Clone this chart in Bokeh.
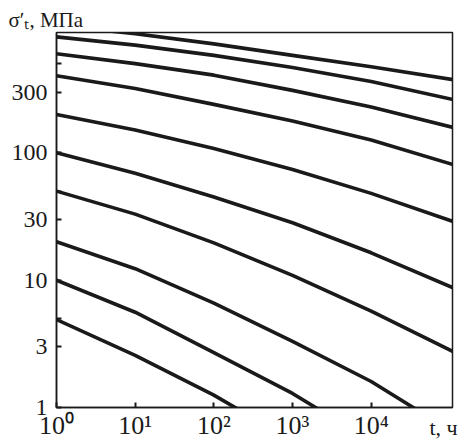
from bokeh.plotting import figure
from bokeh.models import FixedTicker, Range1d, LogAxis
from bokeh.embed import file_html
from bokeh.resources import INLINE

# ---- data ----
t_main = [1, 10, 100, 1000, 10000, 110000]
s_1000 = [1000, 861, 716, 582, 473, 375]
s_800 = [813, 700, 582, 468, 363, 262]
s_600 = [600, 501, 407, 309, 229, 158]
s_400 = [403, 320, 240, 178, 126, 80.7]
s_200 = [200, 151, 108, 74, 48, 28.9]
s_100 = [100, 69, 45, 28.2, 16.4, 8.7]
s_50 = [50, 33, 19.6, 10.9, 5.7, 2.75]
t_20 = [1, 10, 100, 1000, 10000, 45000]
s_20 = [20, 12.3, 6.6, 3.3, 1.6, 0.9]
t_10 = [1, 10, 100, 1000, 2600]
s_10 = [10, 5.6, 2.7, 1.29, 0.9]
t_5 = [1, 10, 100, 250]
s_5 = [4.9, 2.57, 1.25, 0.9]

x_ticks = [1, 10, 100, 1000, 10000]
x_tick_labels = ["10\u2070", "10\u00b9", "10\u00b2", "10\u00b3", "10\u2074"]
y_ticks = [1, 3, 5, 10, 30, 50, 100, 300, 500]
y_tick_labels = ["1", "3", "", "10", "30", "", "100", "300", ""]

y_title = "\u03c3\u2032\u209c, \u041c\u041f\u0430"
x_title = "t, \u0447"

# ---- styling ----
FONT = "Liberation Serif"
INK = "#1a1a1a"
X_TITLE_AT = 8.3e4   # where the x-axis title sits along the axis (on the tick-label row)

p = figure(width=460, height=443, x_axis_type="log", y_axis_type="log",
           x_range=Range1d(1, 1.08e5), y_range=Range1d(1, 880),
           output_backend="svg", toolbar_location=None,
           min_border_left=56, min_border_right=8,
           min_border_top=32, min_border_bottom=36)

p.grid.visible = False
p.outline_line_color = INK
p.outline_line_width = 1.5
p.background_fill_color = "white"
p.border_fill_color = "white"

p.title.text = y_title
p.title.align = "left"
p.title.offset = -48
p.title.standoff = 2
p.title.text_font = FONT
p.title.text_font_size = "21px"
p.title.text_font_style = "normal"
p.title.text_color = INK

for ax in (p.xaxis[0], p.yaxis[0]):
    ax.axis_line_color = INK
    ax.axis_line_width = 1.5
    ax.major_tick_in = 5
    ax.major_tick_out = 0
    ax.major_tick_line_width = 2
    ax.major_tick_line_color = INK
    ax.minor_tick_line_color = None
    ax.major_label_text_font = FONT
    ax.major_label_text_color = INK

xa = p.xaxis[0]
xa.ticker = FixedTicker(ticks=x_ticks)
xa.major_label_overrides = {t: l for t, l in zip(x_ticks, x_tick_labels)}
xa.major_label_text_font_size = "26px"
xa.major_label_standoff = 3

# a second, invisible bottom axis that only carries the axis title "t, ч"
# on the same row as the tick labels
xt = LogAxis(ticker=FixedTicker(ticks=[X_TITLE_AT]),
             major_label_overrides={X_TITLE_AT: x_title},
             axis_line_color=None, major_tick_line_color=None,
             minor_tick_line_color=None, major_tick_in=0, major_tick_out=0,
             major_label_standoff=-28,
             major_label_text_font=FONT, major_label_text_font_size="22px",
             major_label_text_color=INK)
p.add_layout(xt, "below")

ya = p.yaxis[0]
ya.ticker = FixedTicker(ticks=y_ticks)
ya.major_label_overrides = {t: l for t, l in zip(y_ticks, y_tick_labels)}
ya.major_label_text_font_size = "24px"
ya.major_label_standoff = 9

curves = [
    (t_main, s_1000), (t_main, s_800), (t_main, s_600), (t_main, s_400),
    (t_main, s_200), (t_main, s_100), (t_main, s_50),
    (t_20, s_20), (t_10, s_10), (t_5, s_5),
]
for tx, sy in curves:
    p.line(tx, sy, line_color=INK, line_width=3.6, line_cap="round", line_join="round")

open("out.html", "w").write(file_html(p, INLINE))
